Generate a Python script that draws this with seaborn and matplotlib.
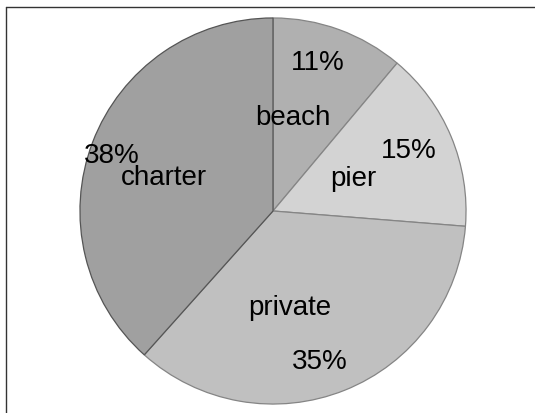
import numpy as np
import matplotlib
matplotlib.use("Agg")
import matplotlib.pyplot as plt
from matplotlib.lines import Line2D
import seaborn as sns

# Share of anglers by fishing mode (percent)
categories = ["beach", "pier", "private", "charter"]
shares = [11, 15, 35, 38]
pct_labels = ["11%", "15%", "35%", "38%"]

slice_colors = ["#b0b0b0", "#d3d3d3", "#c0c0c0", "#a0a0a0"]
edge_colors = ["#858585", "#858585", "#858585", "#555555"]

# label placement: radius (fraction of pie radius) and angular nudge (deg, clockwise)
name_radius = [0.49, 0.45, 0.51, 0.59]
name_nudge = [-8, 1, 12, -4]
pct_radius = [0.80, 0.77, 0.82, 0.885]
pct_nudge = [-3, -1, 4.5, -2]

sns.set_theme(style="white")
plt.rcParams["font.family"] = ["Liberation Sans", "DejaVu Sans"]

W, H = 535, 413
fig = plt.figure(figsize=(W / 100, H / 100), dpi=100)
fig.patch.set_facecolor("white")

# outer frame (runs off the right and bottom edges)
fig.add_artist(Line2D([6 / W, 1.0], [1 - 7 / H, 1 - 7 / H], transform=fig.transFigure,
                      color="#333333", lw=1.0))
fig.add_artist(Line2D([6 / W, 6 / W], [1 - 7 / H, 0.0], transform=fig.transFigure,
                      color="#333333", lw=1.0))

cx, cy, r = 273, 211, 194
ax = fig.add_axes([(cx - r) / W, (H - cy - r) / H, 2 * r / W, 2 * r / H])

wedges, _ = ax.pie(shares, colors=slice_colors, startangle=90, counterclock=False,
                   radius=1.0, wedgeprops=dict(linewidth=0.9))
for w, ec in zip(wedges, edge_colors):
    w.set_edgecolor(ec)
wedges[-1].set_zorder(3)

ax.set_xlim(-1.005, 1.005)
ax.set_ylim(-1.005, 1.005)
ax.set_aspect("equal")
ax.axis("off")

total = float(sum(shares))
cum = np.cumsum([0] + shares)
for i, (name, pct) in enumerate(zip(categories, pct_labels)):
    mid = (cum[i] + shares[i] / 2) / total * 360.0
    for txt, rad, nud in ((name, name_radius[i], name_nudge[i]),
                          (pct, pct_radius[i], pct_nudge[i])):
        a = np.deg2rad(90 - (mid + nud))
        ax.text(rad * np.cos(a), rad * np.sin(a), txt, ha="center", va="center",
                fontsize=20, color="black", zorder=5)

fig.savefig("out.png", dpi=100, facecolor="white")
